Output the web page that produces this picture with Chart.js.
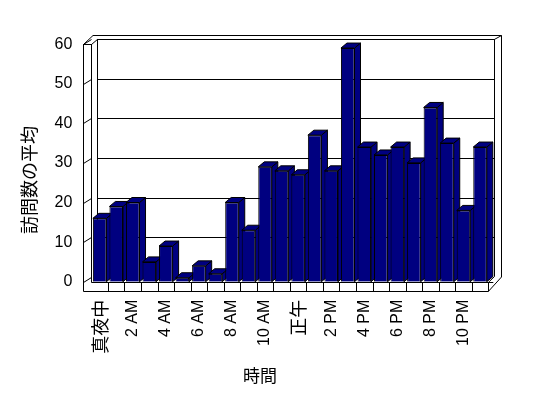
<!DOCTYPE html>
<html>
<head>
<meta charset="utf-8">
<script src="https://cdn.jsdelivr.net/npm/chart.js@4/dist/chart.umd.min.js"></script>
<style>
html,body{margin:0;padding:0;background:#fff;}
canvas{display:block;}
</style>
</head>
<body>
<canvas id="c" width="548" height="398"></canvas>
<script>
const categories = ['0時','1時','2時','3時','4時','5時','6時','7時','8時','9時','10時','11時','12時','13時','14時','15時','16時','17時','18時','19時','20時','21時','22時','23時'];
const visits = [16,19,20,5,9,1,4,2,20,13,29,28,27,37,28,59,34,32,34,30,44,35,18,34];
const tickLabels = ['真夜中','','2 AM','','4 AM','','6 AM','','8 AM','','10 AM','','正午','','2 PM','','4 PM','','6 PM','','8 PM','','10 PM',''];
const yTitle = '訪問数の平均';
const xTitle = '時間';

const NAVY = '#000080';
const DX = 6, DY = -5;
const LATIN = '"Liberation Sans", Arial, sans-serif';
const CJK = '"Noto Sans CJK JP", sans-serif';
const isCJK = s => /[\u3000-\u9fff]/.test(s);

const frame3d = {
  id: 'frame3d',
  beforeDatasetsDraw(chart) {
    const {ctx, chartArea: a, scales: {x, y}} = chart;
    ctx.save();
    ctx.strokeStyle = '#000';
    ctx.lineWidth = 1;
    const line = (x1, y1, x2, y2) => { ctx.beginPath(); ctx.moveTo(x1, y1); ctx.lineTo(x2, y2); ctx.stroke(); };
    const L = a.left, R = a.right, T = a.top, B = a.bottom;
    const fL = 83.5, fB = 291.5;
    y.ticks.forEach(t => {
      const yy = Math.round(y.getPixelForValue(t.value) + DY) + 0.5;
      if (t.value > 0) line(L + DX, yy, R + DX, yy);
      const yf = Math.round(y.getPixelForValue(t.value)) + 0.5;
      line(fL, yf, 91.5, yy);
    });
    line(Math.round(L + DX) + 0.5, T + DY, Math.round(L + DX) + 0.5, B + DY);
    line(Math.round(R + DX) + 0.5, T + DY, Math.round(R + DX) + 0.5, B + DY);
    line(93, 35.5, 501.5, 35.5);
    line(501.5, 35.5, 501.5, 277);
    line(R + DX, Math.round(T + DY) + 0.5, 501.5, 35.5);
    line(fL, Math.round(T), fL, fB);
    line(91.5, Math.round(T), 91.5, Math.round(B) + 0.5);
    line(fL, Math.round(T) + 0.5, 91.5, Math.round(T) + 0.5);
    line(fL, Math.round(T) + 0.5, 93, 35.5);
    line(91.5, Math.round(T) + 0.5, L + DX, Math.round(T + DY) + 0.5);
    const bb = Math.round(B) + 0.5;
    line(fL, fB, R, fB);
    line(91.5, bb, R + 5, bb);
    line(R, fB, 501.5, 277);
    line(R, bb, R + DX, B + DY);
    const cw = (R - L) / categories.length;
    for (let k = 1; k <= categories.length; k++) {
      const xx = Math.round(L + k * cw) + 0.5;
      line(xx, bb, xx, fB);
    }
    const meta = chart.getDatasetMeta(0);
    meta.data.forEach(bar => {
      const p = bar.getProps(['x', 'y', 'base', 'width'], true);
      const l = p.x - p.width / 2, r = p.x + p.width / 2, t = p.y, b = p.base;
      ctx.fillStyle = NAVY;
      ctx.beginPath();
      ctx.moveTo(r, t); ctx.lineTo(r + DX, t + DY); ctx.lineTo(r + DX, b + DY); ctx.lineTo(r, b); ctx.closePath();
      ctx.fill(); ctx.stroke();
      ctx.beginPath();
      ctx.moveTo(l, t); ctx.lineTo(l + DX, t + DY); ctx.lineTo(r + DX, t + DY); ctx.lineTo(r, t); ctx.closePath();
      ctx.fill(); ctx.stroke();
    });
    ctx.restore();
  },
  afterDraw(chart) {
    const {ctx} = chart;
    ctx.save();
    ctx.fillStyle = '#000';
    ctx.textAlign = 'center';
    ctx.textBaseline = 'middle';
    ctx.font = '17px ' + CJK;
    ctx.fillText(xTitle, 260, 376);
    ctx.translate(29, 180);
    ctx.rotate(-Math.PI / 2);
    ctx.font = '18px ' + CJK;
    ctx.fillText(yTitle, 0, 0);
    ctx.restore();
  }
};

new Chart(document.getElementById('c'), {
  type: 'bar',
  data: {
    labels: categories,
    datasets: [{
      data: visits,
      backgroundColor: NAVY,
      borderColor: '#000',
      borderWidth: 1,
      barPercentage: 0.82,
      categoryPercentage: 1
    }]
  },
  options: {
    responsive: false,
    animation: false,
    devicePixelRatio: 1,
    layout: {padding: {left: 0, right: 59.7, top: 44.1, bottom: 0}},
    plugins: {legend: {display: false}, tooltip: {enabled: false}},
    scales: {
      x: {
        grid: {display: false, drawTicks: false},
        border: {display: false},
        afterFit: s => { s.height = 398 - 281.7; },
        ticks: {
          autoSkip: false,
          maxRotation: 90,
          minRotation: 90,
          padding: 18,
          color: '#000',
          callback: (v, i) => tickLabels[i],
          font: ctx => {
            const s = tickLabels[ctx.index] || '';
            return isCJK(s) ? {family: CJK, size: 18} : {family: LATIN, size: 16};
          }
        }
      },
      y: {
        min: 0,
        max: 60,
        grid: {display: false, drawTicks: false},
        border: {display: false},
        afterFit: s => { s.width = 91.4; },
        ticks: {
          stepSize: 10,
          padding: 19,
          color: '#000',
          font: {family: LATIN, size: 16}
        }
      }
    }
  },
  plugins: [frame3d]
});
</script>
</body>
</html>
